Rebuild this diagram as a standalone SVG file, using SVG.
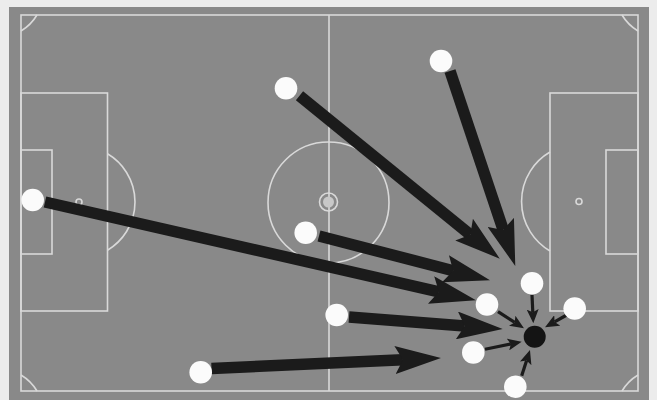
<svg xmlns="http://www.w3.org/2000/svg" width="657" height="400" viewBox="0 0 657 400">
  <defs>
    <style>
      .fl { fill: none; stroke: #d9d9d9; stroke-width: 1.6; }
      .big { stroke: #1b1b1b; stroke-width: 11.5; fill: none; marker-end: url(#bigHead); }
      .small { stroke: #1b1b1b; stroke-width: 3.2; fill: none; marker-end: url(#smallHead); }
      .player { fill: #fbfbfb; }
      .ball { fill: #141414; }
    </style>
    <marker id="bigHead" viewBox="0 0 46 28" markerWidth="46" markerHeight="28" refX="8" refY="14" orient="auto" markerUnits="userSpaceOnUse">
      <path d="M46,14 L0,0 L8,14 L0,28 Z" fill="#1b1b1b"/>
    </marker>
    <marker id="smallHead" viewBox="0 0 14 12" markerWidth="14" markerHeight="12" refX="3" refY="6" orient="auto" markerUnits="userSpaceOnUse">
      <path d="M14,6 L0,0 L3,6 L0,12 Z" fill="#1b1b1b"/>
    </marker>
  </defs>

  <!-- background and pitch -->
  <rect x="0" y="0" width="657" height="400" fill="#ececec"/>
  <rect x="9" y="7" width="640" height="393" fill="#898989"/>

  <g id="pitch-lines">
    <rect class="fl" x="21" y="15" width="617" height="376"/>
    <line class="fl" x1="329" y1="15" x2="329" y2="391"/>
    <circle class="fl" cx="328.5" cy="202.5" r="60.5"/>
    <circle class="fl" cx="328.5" cy="202" r="9"/>
    <circle cx="328.5" cy="202" r="5.5" fill="#c8c8c8"/>
    <!-- left end -->
    <rect class="fl" x="21" y="93" width="86.5" height="218"/>
    <rect class="fl" x="21" y="150" width="31" height="104"/>
    <circle class="fl" cx="79" cy="202" r="3" stroke-width="1.3"/>
    <path class="fl" d="M107.5,153.8 A56,56 0 0 1 107.5,250.2"/>
    <!-- right end -->
    <rect class="fl" x="550" y="93" width="88" height="218"/>
    <rect class="fl" x="606" y="150" width="32" height="104"/>
    <circle class="fl" cx="579" cy="201.5" r="3" stroke-width="1.3"/>
    <path class="fl" d="M550,152 A57.3,57.3 0 0 0 550,251"/>
    <!-- corner arcs -->
    <path class="fl" d="M37,15 Q31,25 21,31"/>
    <path class="fl" d="M622,15 Q628,25 638,31"/>
    <path class="fl" d="M21,375 Q31,381 37,391"/>
    <path class="fl" d="M622,391 Q628,381 638,375"/>
  </g>

  <g id="connectors">
    <line class="big" x1="450" y1="71" x2="503.2" y2="229.9"/>
    <line class="big" x1="299.5" y1="95.8" x2="470.3" y2="234.7"/>
    <line class="big" x1="45" y1="202" x2="438.9" y2="291.8"/>
    <line class="big" x1="319" y1="236" x2="453.2" y2="270.7"/>
    <line class="big" x1="349" y1="317" x2="464.8" y2="326.1"/>
    <line class="big" x1="211.5" y1="368.5" x2="403" y2="359.7"/>
    <line class="small" x1="532" y1="295" x2="532.8" y2="312.3"/>
    <line class="small" x1="498" y1="311.7" x2="514.7" y2="322.4"/>
    <line class="small" x1="566.7" y1="315" x2="554.6" y2="321.9"/>
    <line class="small" x1="485" y1="349.3" x2="510.9" y2="343.9"/>
    <line class="small" x1="521.7" y1="375.7" x2="526.6" y2="360.5"/>
  </g>

  <g id="player-a"><circle class="player" cx="441" cy="61" r="11.3"/></g>
  <g id="player-b"><circle class="player" cx="286" cy="88.3" r="11.3"/></g>
  <g id="player-c"><circle class="player" cx="32.7" cy="200" r="11.3"/></g>
  <g id="player-d"><circle class="player" cx="305.7" cy="232.7" r="11.3"/></g>
  <g id="player-e"><circle class="player" cx="336.7" cy="315" r="11.3"/></g>
  <g id="player-f"><circle class="player" cx="200.7" cy="372.3" r="11.3"/></g>
  <g id="player-g"><circle class="player" cx="487" cy="304.5" r="11.3"/></g>
  <g id="player-h"><circle class="player" cx="532" cy="283.3" r="11.3"/></g>
  <g id="player-i"><circle class="player" cx="574.7" cy="308.5" r="11.3"/></g>
  <g id="player-j"><circle class="player" cx="473.3" cy="352.5" r="11.3"/></g>
  <g id="player-k"><circle class="player" cx="515.3" cy="386.7" r="11.3"/></g>
  <g id="ball"><circle class="ball" cx="534.7" cy="336.7" r="11"/></g>
</svg>
